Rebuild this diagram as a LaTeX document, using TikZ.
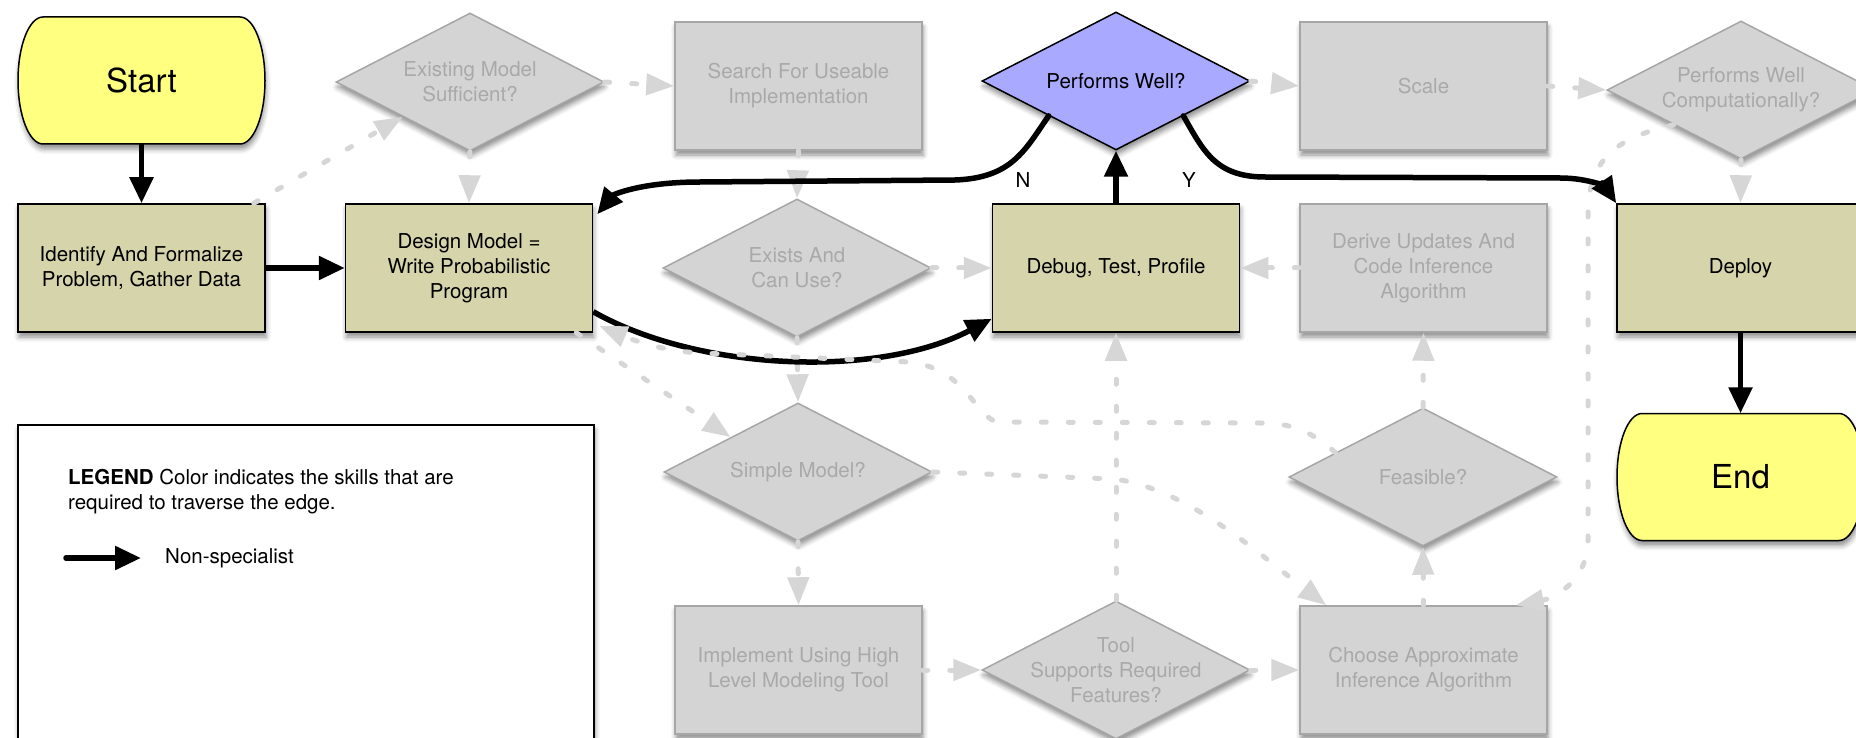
\documentclass[tikz,border=0pt]{standalone}
\usepackage{fontspec}
\setmainfont{TeX Gyre Heros}
\usetikzlibrary{shapes.geometric,arrows.meta,shadows.blur,calc}
\definecolor{yel}{HTML}{FFFF80}
\definecolor{boxol}{HTML}{D5D4AA}
\definecolor{purp}{HTML}{A9AAFF}
\definecolor{gfill}{HTML}{D4D4D4}
\definecolor{gline}{HTML}{A6A6A6}
\definecolor{gtext}{HTML}{A9A9A9}
\definecolor{gedge}{HTML}{D6D6D6}
\newcommand\dgbody{\fontsize{20.5}{25}\selectfont}
\newcommand\dgbig{\fontsize{33}{38}\selectfont}
\tikzset{
 shad/.style={blur shadow={shadow xshift=1pt, shadow yshift=-5pt, shadow blur radius=5pt, shadow opacity=45}},
 box/.style={rectangle, minimum width=247pt, minimum height=128pt, inner sep=0pt, align=center, font=\dgbody, shad, line width=1.5pt},
 actbox/.style={box, fill=boxol, draw=black},
 gbox/.style={box, fill=gfill, draw=gline, text=gtext},
 dia/.style={diamond, aspect=1.94, minimum width=268pt, minimum height=138pt, inner sep=0pt, align=center, font=\dgbody, shad, line width=1.5pt},
 gdia/.style={dia, fill=gfill, draw=gline, text=gtext},
 pdia/.style={dia, fill=purp, draw=black},
 term/.style={rectangle, minimum width=247pt, minimum height=127pt, inner sep=0pt, font=\dgbig},
 termshape/.style={fill=yel, draw=black, line width=1.5pt, shad},
 blk/.style={line width=5.5pt, black, -{Triangle[width=23pt,length=26pt]}},
 gry/.style={line width=5pt, gedge, line cap=round, dash pattern=on 5pt off 22pt, -{Triangle[width=21pt,length=28pt]}},
 lbl/.style={font=\dgbody, inner sep=0pt},
}
\begin{document}
\begin{tikzpicture}[x=1pt,y=-1pt]
\clip (0,0) rectangle (1856,738);

% terminal outlines (Start / End)
\path[termshape] (43,17) -- (240,17)
  arc[start angle=90, end angle=-90, x radius=25pt, y radius=63.5pt]
  -- (43,144)
  arc[start angle=270, end angle=90, x radius=25pt, y radius=63.5pt] -- cycle;
\path[termshape] (1642,413.5) -- (1839,413.5)
  arc[start angle=90, end angle=-90, x radius=25pt, y radius=63.5pt]
  -- (1642,540.5)
  arc[start angle=270, end angle=90, x radius=25pt, y radius=63.5pt] -- cycle;

% nodes
\node[term] (start) at (141.5,80.5) {Start};
\node[actbox] (identify) at (141.5,268) {Identify And Formalize\\Problem, Gather Data};
\node[actbox] (design) at (469,268) {Design Model =\\Write Probabilistic\\Program};
\node[gdia] (existing) at (470,82) {Existing Model\\Sufficient?};
\node[gbox] (search) at (798.5,86) {Search For Useable\\Implementation};
\node[gdia] (exists) at (797,268) {Exists And\\Can Use?};
\node[gdia] (simple) at (798,472) {Simple Model?};
\node[gbox] (implement) at (798.5,670) {Implement Using High\\Level Modeling Tool};
\node[pdia] (pw) at (1116,81) {Performs Well?};
\node[gbox] (scale) at (1423.5,86) {Scale};
\node[actbox] (debug) at (1116,268) {Debug, Test, Profile};
\node[gbox] (derive) at (1423.5,268) {Derive Updates And\\Code Inference\\Algorithm};
\node[gdia] (feasible) at (1423,477) {Feasible?};
\node[gdia, inner sep=-22pt] (tool) at (1116,670) {Tool\\Supports Required\\Features?};
\node[gbox] (choose) at (1423.5,670) {Choose Approximate\\Inference Algorithm};
\node[gdia] (pwc) at (1741,90) {Performs Well\\Computationally?};
\node[actbox] (deploy) at (1740.5,268) {Deploy};
\node[term] (end) at (1740.5,477) {End};

% legend
\node[rectangle, draw=black, fill=white, line width=1.5pt, shad, minimum width=576pt, minimum height=335pt, inner sep=0pt] (legend) at (306,592.5) {};
\node[lbl, anchor=west, align=left] (legtext) at (68,491.5) {\textbf{LEGEND} Color indicates the skills that are\\required to traverse the edge.};
\coordinate (la) at (66,558);
\coordinate (lb) at (141,558);
\draw[blk, line cap=round] (la) -- (lb);
\node[lbl, anchor=west] (legns) at (165,558) {Non-specialist};

% gray edges
\draw[gry] ([xshift=-12pt]identify.north east) -- (existing.south west);
\draw[gry] (existing.east) -- (search.west);
\draw[gry] (existing.south) -- (design.north);
\draw[gry] (search.south) -- (exists.north);
\draw[gry] (exists.east) -- (debug.west);
\draw[gry] (exists.south) -- (simple.north);
\draw[gry] (simple.south) -- (implement.north);
\draw[gry] (implement.east) -- (tool.west);
\draw[gry] (tool.north) -- (debug.south);
\draw[gry] (tool.east) -- (choose.west);
\draw[gry] (choose.north) -- (feasible.south);
\draw[gry] (feasible.north) -- (derive.south);
\draw[gry] (derive.west) -- (debug.east);
\draw[gry] (pw.east) -- (scale.west);
\draw[gry] (scale.east) -- (pwc.west);
\draw[gry] (pwc.south) -- (deploy.north);
\draw[gry] ([xshift=-17pt]design.south east) -- (simple.north west);
\draw[gry] (pwc.south west) .. controls (1615,138) and (1588,160) .. (1588,215)
  -- (1588,540) .. controls (1588,580) and (1555,598) .. ([xshift=-32pt]choose.north east);
\draw[gry] (simple.east) -- (1115,479) .. controls (1190,490) and (1260,555) .. ([xshift=27pt]choose.north west);

% black edges
\draw[blk] (start.south) -- (identify.north);
\draw[blk] (identify.east) -- (design.west);
\draw[blk] ([yshift=21pt]design.south east) .. controls (700,372) and (880,378) .. ([yshift=14pt]debug.south west);
\draw[blk] (debug.north) -- (pw.south);
\draw[blk, line cap=round] (pw.south west) .. controls (1025,150) and (1012,178) .. (955,180)
  -- (700,182) .. controls (640,182) and (613,195) .. ([xshift=4pt,yshift=-11pt]design.north east);
\draw[blk, line cap=round] (pw.south east) .. controls (1203,150) and (1215,177) .. (1265,177)
  -- (1560,178) .. controls (1590,178) and (1606,188) .. (deploy.north west);
\draw[blk] (deploy.south) -- (end.north);

\coordinate (fs) at ($(feasible.west)!0.35!(feasible.north)$);
\draw[gry] (fs) .. controls (1310,430) and (1290,423) .. (1260,423) -- (1000,422)
  .. controls (975,421) and (970,370) .. (910,362) -- (700,353)
  .. controls (660,351) and (628,338) .. ([xshift=6pt,yshift=7pt]design.south east);

\node[lbl] (nlab) at (1023,180) {N};
\node[lbl] (ylab) at (1189,180) {Y};
\end{tikzpicture}
\end{document}
